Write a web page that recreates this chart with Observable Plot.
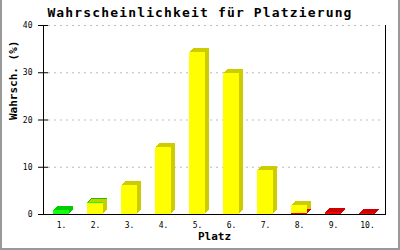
<!DOCTYPE html>
<html><head><meta charset="utf-8">
<script src="https://cdn.jsdelivr.net/npm/d3@7"></script>
<script src="https://cdn.jsdelivr.net/npm/@observablehq/plot@0.6"></script>
<style>
body{margin:0;background:#fff;}
#wrap{position:relative;width:400px;height:250px;overflow:hidden;font-family:"DejaVu Sans Mono",monospace;background:#fff;}
#title{position:absolute;left:0;top:6px;width:400px;text-align:center;font-weight:bold;font-size:13px;line-height:13px;letter-spacing:1.15px;color:#000;}
#chart{position:absolute;left:0;top:21px;}
#border{position:absolute;left:0;top:0;width:400px;height:250px;box-sizing:border-box;border:2px solid #999;border-top:none;pointer-events:none;}
</style></head>
<body>
<div id="wrap">
  <div id="title">Wahrscheinlichkeit für Platzierung</div>
  <div id="chart"></div>
  <div id="border"></div>
</div>
<script>
const places = ["1.","2.","3.","4.","5.","6.","7.","8.","9.","10."];
const greenVals  = [0.9, 0.25, 0, 0, 0, 0, 0, 0, 0, 0];
const yellowVals = [0, 2.35, 6.1, 14.2, 34.3, 29.9, 9.3, 1.6, 0, 0];
const redVals    = [0, 0, 0, 0, 0, 0, 0, 0.3, 0.5, 0.15];
const yTicks = [0, 10, 20, 30, 40];
const yLabel = "Wahrsch. (%)";
const xLabel = "Platz";

const front = {red: "#ff0000", yellow: "#ffff00", green: "#11ff11"};
const dark  = {red: "#cc0000", yellow: "#cccc00", green: "#00cc00"};

const rows = [];
[["red", redVals], ["yellow", yellowVals], ["green", greenVals]].forEach(([s, vals]) => {
  places.forEach((p, i) => { if (vals[i] > 0) rows.push({place: p, status: s, value: vals[i]}); });
});

const inset = 9.1;
const backs = [1, 2, 3, 4].map(k => Plot.barY(rows, {
  x: "place", y: "value", z: "status", fill: d => dark[d.status],
  dx: k, dy: -k, insetLeft: inset, insetRight: inset, shapeRendering: "crispEdges"
}));

const chart = Plot.plot({
  width: 400, height: 229,
  marginLeft: 43, marginRight: 15, marginTop: 4, marginBottom: 36,
  style: {fontFamily: "DejaVu Sans Mono, monospace", background: "transparent"},
  x: {domain: places, padding: 0, axis: null},
  y: {domain: [0, 40], axis: null},
  color: {type: "identity"},
  marks: [
    Plot.gridY(yTicks.filter(t => t > 0), {stroke: "#bbb", strokeOpacity: 1, strokeDasharray: "2,4", insetLeft: 5, insetRight: 2}),
    ...backs,
    Plot.barY(rows, {x: "place", y: "value", z: "status", fill: d => front[d.status],
      insetLeft: inset, insetRight: inset, shapeRendering: "crispEdges"}),
    Plot.frame({anchor: "left", stroke: "#000"}),
    Plot.frame({anchor: "right", stroke: "#000"}),
    Plot.ruleY([0], {stroke: "#000"}),
    Plot.axisY(yTicks, {tickSize: 5, tickPadding: 6, fontSize: 8, label: null, letterSpacing: 0.8}),
    Plot.axisY(yTicks, {tickSize: 5, dx: 5, text: null, label: null}),
    Plot.axisX({tickSize: 0, tickPadding: 8, fontSize: 8, label: null, letterSpacing: 0.8}),
    Plot.text([yLabel], {text: d => d, frameAnchor: "left", rotate: -90, dx: -30, fontWeight: "bold", fontSize: 11}),
    Plot.text([xLabel], {text: d => d, frameAnchor: "bottom", dy: 25, fontWeight: "bold", fontSize: 11})
  ]
});
document.getElementById("chart").appendChild(chart);
</script>
</body></html>
